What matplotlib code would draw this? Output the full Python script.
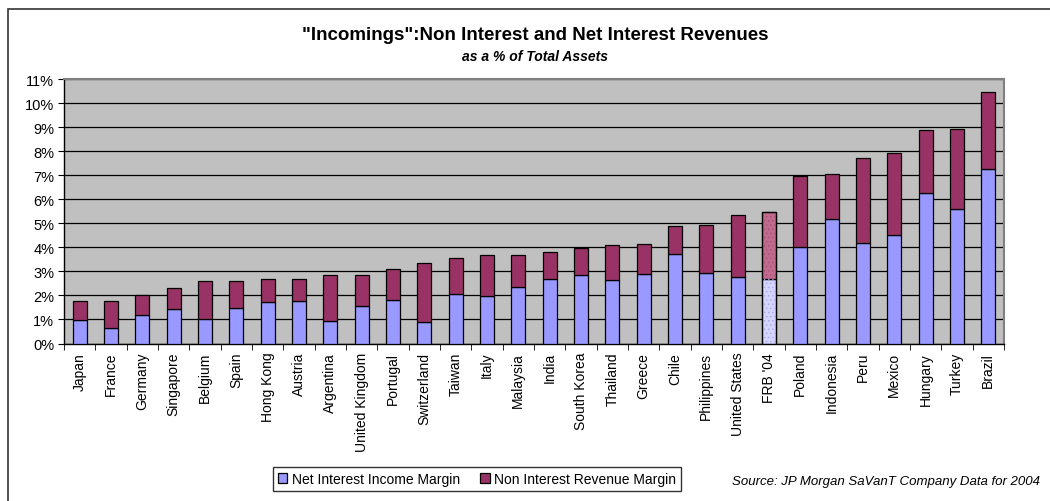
import matplotlib
matplotlib.use("Agg")
import matplotlib.pyplot as plt
import numpy as np
from matplotlib.patches import Rectangle

# Data (% of total assets)
countries = ["Japan", "France", "Germany", "Singapore", "Belgium", "Spain",
             "Hong Kong", "Austria", "Argentina", "United Kingdom", "Portugal",
             "Switzerland", "Taiwan", "Italy", "Malaysia", "India", "South Korea",
             "Thailand", "Greece", "Chile", "Philippines", "United States",
             "FRB '04", "Poland", "Indonesia", "Peru", "Mexico", "Hungary",
             "Turkey", "Brazil"]
total = [1.75, 1.75, 2.0, 2.3, 2.6, 2.6, 2.7, 2.7, 2.85, 2.85, 3.09, 3.35,
         3.55, 3.69, 3.69, 3.8, 3.99, 4.08, 4.15, 4.88, 4.94, 5.33, 5.47,
         6.95, 7.05, 7.7, 7.92, 8.88, 8.92, 10.45]
net_interest = [0.97, 0.63, 1.2, 1.42, 1.03, 1.48, 1.72, 1.76, 0.93, 1.57,
                1.82, 0.88, 2.06, 1.97, 2.35, 2.7, 2.85, 2.66, 2.9, 3.73, 2.95,
                2.76, 2.7, 4.03, 5.17, 4.19, 4.53, 6.26, 5.6, 7.24]
non_interest = [t - n for t, n in zip(total, net_interest)]
highlight = "FRB '04"

BLUE = "#9999FF"
MAROON = "#993366"

plt.rcParams['font.family'] = ['Liberation Sans', 'DejaVu Sans']

fig = plt.figure(figsize=(10.5, 5.02), dpi=100)
# outer chart border
fig.patches.append(Rectangle((8 / 1050, -0.1), 1.2, (502 - 10) / 502 + 0.1,
                             transform=fig.transFigure, fill=False,
                             edgecolor="#333333", linewidth=1.2))

ax = fig.add_axes([64 / 1050, (502 - 344.5) / 502, 940 / 1050, 264.5 / 502])
ax.set_facecolor("#C0C0C0")

x = np.arange(len(countries))
w = 0.44
blue_c = [("#D4D4FF" if c == highlight else BLUE) for c in countries]
mar_c = [("#C06A8E" if c == highlight else MAROON) for c in countries]
ax.bar(x, net_interest, w, color=blue_c, edgecolor="black", linewidth=0.9,
       zorder=3, label="Net Interest Income Margin")
ax.bar(x, non_interest, w, bottom=net_interest, color=mar_c, edgecolor="black",
       linewidth=0.9, zorder=3, label="Non Interest Revenue Margin")

# dotted pattern on the FRB bar
i = countries.index(highlight)
plt.rcParams['hatch.linewidth'] = 0.5
ax.bar([i], [net_interest[i]], w, fill=False, hatch="....", edgecolor="#A8A8F0",
       linewidth=0, zorder=3.5)
ax.bar([i], [non_interest[i]], w, bottom=[net_interest[i]], fill=False,
       hatch="....", edgecolor="#A85078", linewidth=0, zorder=3.5)
ax.bar([i], [total[i]], w, fill=False, edgecolor="black", linewidth=0.9, zorder=4)

ax.set_ylim(0, 11)
ax.set_xlim(-0.5, len(countries) - 0.5)
ax.set_yticks(np.arange(0, 12, 1))
ax.set_yticklabels([f"{v}%" for v in range(12)], fontsize=10.5)
ax.yaxis.grid(True, color="black", linewidth=0.9, zorder=1)
ax.set_axisbelow(True)

ax.set_xticks(x)
ax.set_xticklabels(countries, rotation=90, fontsize=10)
ax.tick_params(axis="x", length=0, pad=6)
ax.set_xticks(np.arange(-0.5, len(countries), 1), minor=True)
ax.tick_params(axis="x", which="minor", length=4, direction="out", color="black")
ax.tick_params(axis="y", length=4, direction="out", color="black", pad=3)

for side in ["top", "right"]:
    ax.spines[side].set_color("#808080")
    ax.spines[side].set_linewidth(1.5)
for side in ["left", "bottom"]:
    ax.spines[side].set_color("black")
    ax.spines[side].set_linewidth(1)

fig.text(535 / 1050, 1 - 36 / 502, '"Incomings":Non Interest and Net Interest Revenues',
         ha="center", va="center", fontsize=13.5, fontweight="bold")
fig.text(535 / 1050, 1 - 57 / 502, "as a % of Total Assets",
         ha="center", va="center", fontsize=10, fontweight="bold", style="italic")

leg = fig.legend(loc="center", bbox_to_anchor=(477 / 1050, 1 - 480 / 502), ncol=2,
                 fontsize=10, frameon=True, fancybox=False, edgecolor="black",
                 handlelength=0.7, handleheight=0.7, handletextpad=0.3,
                 columnspacing=1.5, borderpad=0.35)
leg.get_frame().set_linewidth(1)

fig.text(1040 / 1050, 1 - 482 / 502, "Source: JP Morgan SaVanT Company Data for 2004",
         ha="right", va="center", fontsize=9.5, style="italic")

fig.savefig("out.png", dpi=100)
